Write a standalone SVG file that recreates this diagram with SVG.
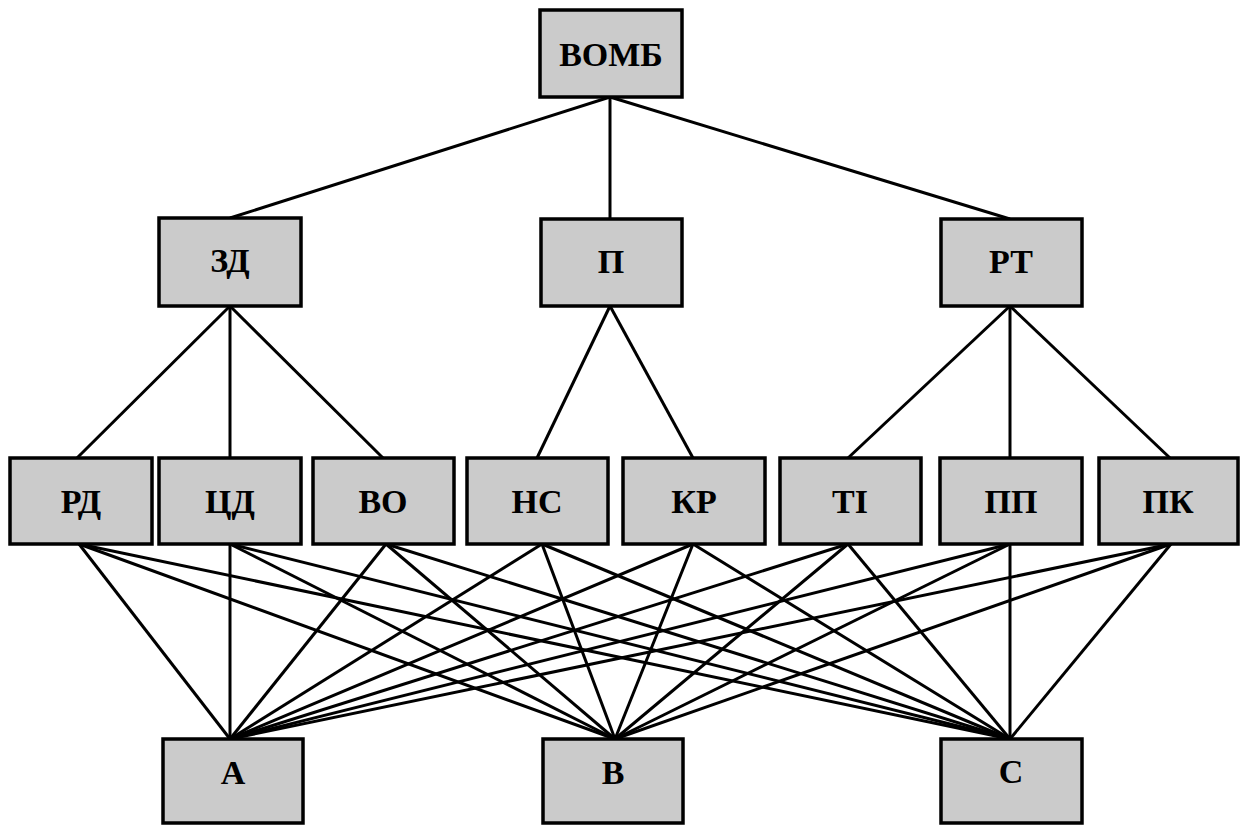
<svg xmlns="http://www.w3.org/2000/svg" width="1240" height="825" viewBox="0 0 1240 825">
<style>
.box{fill:#cbcbcb;stroke:#000;stroke-width:3.5}
.lbl{font-family:"Liberation Serif","Times New Roman",serif;font-weight:bold;font-size:34px;fill:#000;text-anchor:middle}
.c line{stroke:#000;stroke-width:3}
</style>
<rect width="1240" height="825" fill="#fff"/>
<g class="c" id="connectors">
<line x1="610" y1="97" x2="230" y2="218"/>
<line x1="610" y1="97" x2="610" y2="219"/>
<line x1="610" y1="97" x2="1010" y2="219"/>
<line x1="230" y1="306" x2="77" y2="458"/>
<line x1="230" y1="306" x2="230" y2="458"/>
<line x1="230" y1="306" x2="383" y2="458"/>
<line x1="610" y1="306" x2="537" y2="458"/>
<line x1="610" y1="306" x2="693" y2="458"/>
<line x1="1010" y1="306" x2="848" y2="458"/>
<line x1="1010" y1="306" x2="1010" y2="458"/>
<line x1="1010" y1="306" x2="1170" y2="458"/>
<line x1="79" y1="544" x2="230" y2="739"/><line x1="79" y1="544" x2="615" y2="739"/><line x1="79" y1="544" x2="1010" y2="739"/>
<line x1="230" y1="544" x2="230" y2="739"/><line x1="230" y1="544" x2="615" y2="739"/><line x1="230" y1="544" x2="1010" y2="739"/>
<line x1="386" y1="544" x2="230" y2="739"/><line x1="386" y1="544" x2="615" y2="739"/><line x1="386" y1="544" x2="1010" y2="739"/>
<line x1="542" y1="544" x2="230" y2="739"/><line x1="542" y1="544" x2="615" y2="739"/><line x1="542" y1="544" x2="1010" y2="739"/>
<line x1="693" y1="544" x2="230" y2="739"/><line x1="693" y1="544" x2="615" y2="739"/><line x1="693" y1="544" x2="1010" y2="739"/>
<line x1="848" y1="544" x2="230" y2="739"/><line x1="848" y1="544" x2="615" y2="739"/><line x1="848" y1="544" x2="1010" y2="739"/>
<line x1="1010" y1="544" x2="230" y2="739"/><line x1="1010" y1="544" x2="615" y2="739"/><line x1="1010" y1="544" x2="1010" y2="739"/>
<line x1="1171" y1="544" x2="230" y2="739"/><line x1="1171" y1="544" x2="615" y2="739"/><line x1="1171" y1="544" x2="1010" y2="739"/>
</g>
<g id="n-vomb"><rect class="box" x="540" y="10" width="142" height="87"/><text class="lbl" x="611" y="66">ВОМБ</text></g>
<g id="n-zd"><rect class="box" x="159" y="218" width="142" height="88"/><text class="lbl" x="230" y="272">ЗД</text></g>
<g id="n-p"><rect class="box" x="541" y="219" width="141" height="87"/><text class="lbl" x="611" y="273">П</text></g>
<g id="n-rt"><rect class="box" x="941" y="219" width="141" height="87"/><text class="lbl" x="1011" y="273">РТ</text></g>
<g id="n-rd"><rect class="box" x="10" y="458" width="142" height="86"/><text class="lbl" x="81" y="513">РД</text></g>
<g id="n-cd"><rect class="box" x="159" y="458" width="142" height="86"/><text class="lbl" x="230" y="513">ЦД</text></g>
<g id="n-vo"><rect class="box" x="313" y="458" width="141" height="86"/><text class="lbl" x="383" y="513">ВО</text></g>
<g id="n-ns"><rect class="box" x="467" y="458" width="141" height="86"/><text class="lbl" x="537" y="513">НС</text></g>
<g id="n-kr"><rect class="box" x="623" y="458" width="142" height="86"/><text class="lbl" x="694" y="513">КР</text></g>
<g id="n-ti"><rect class="box" x="780" y="458" width="141" height="86"/><text class="lbl" x="850" y="513">ТІ</text></g>
<g id="n-pp"><rect class="box" x="940" y="458" width="142" height="86"/><text class="lbl" x="1011" y="513">ПП</text></g>
<g id="n-pk"><rect class="box" x="1099" y="458" width="139" height="86"/><text class="lbl" x="1168" y="513">ПК</text></g>
<g id="n-a"><rect class="box" x="163" y="739" width="140" height="84"/><text class="lbl" x="233" y="784">А</text></g>
<g id="n-b"><rect class="box" x="543" y="739" width="140" height="84"/><text class="lbl" x="613" y="784">В</text></g>
<g id="n-c"><rect class="box" x="941" y="739" width="141" height="84"/><text class="lbl" x="1011" y="783">С</text></g>
</svg>
